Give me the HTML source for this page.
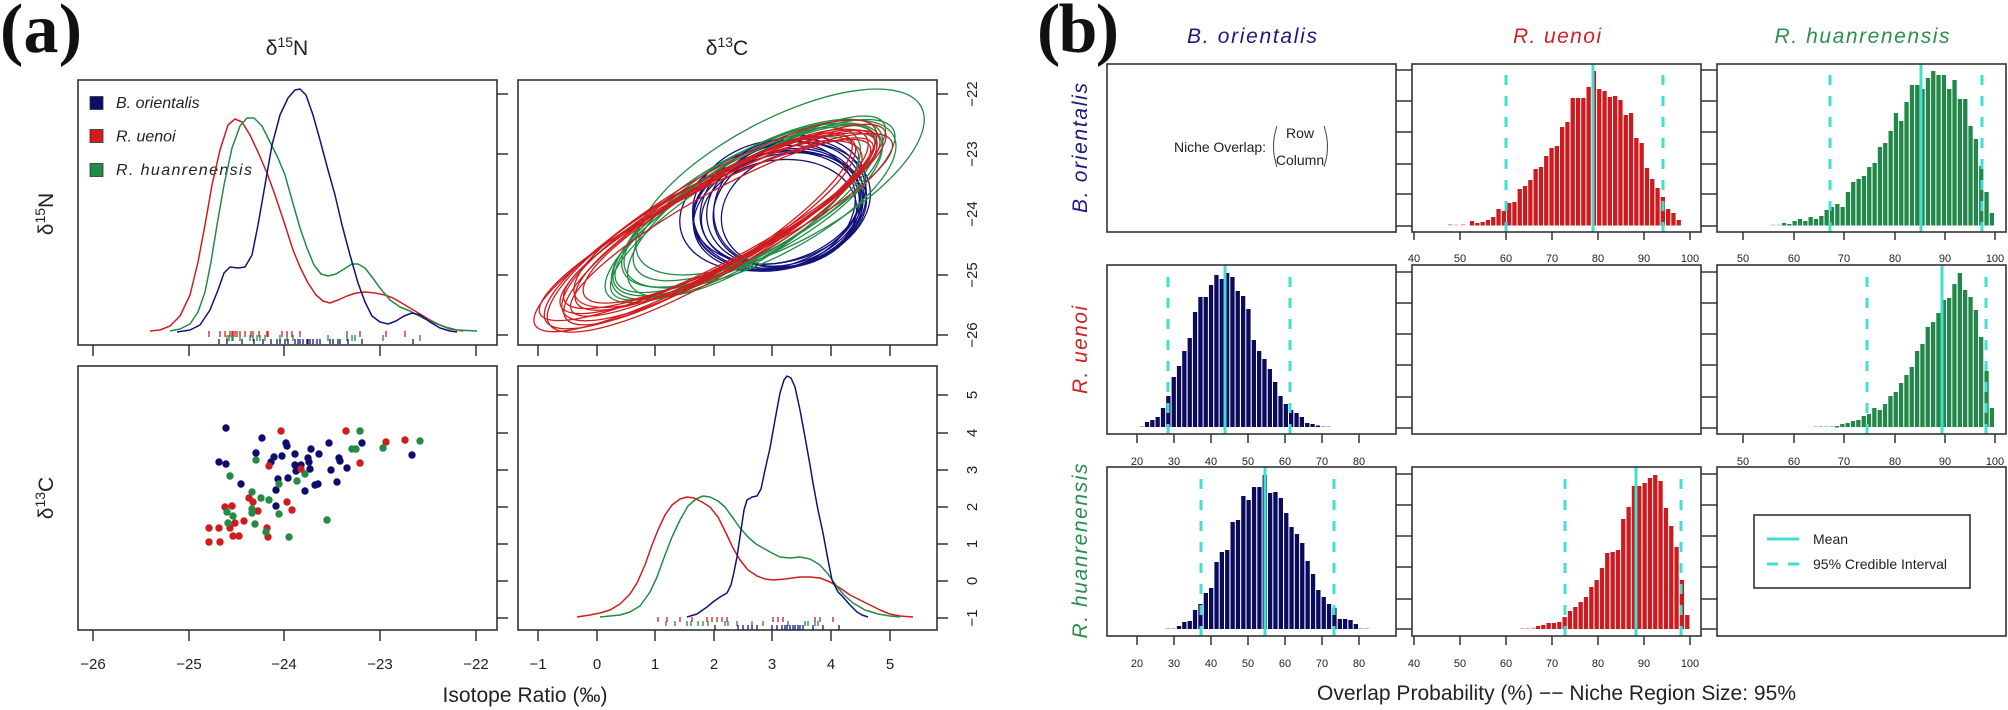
<!DOCTYPE html>
<html><head><meta charset="utf-8"><style>
html,body{margin:0;padding:0;background:#fff;}
svg{display:block;}
text{font-family:"Liberation Sans",Arial,sans-serif;}
</style></head><body>
<svg width="2008" height="710" viewBox="0 0 2008 710" xmlns="http://www.w3.org/2000/svg">
<rect width="2008" height="710" fill="#fff"/>

<!-- ================= PANEL (a) ================= -->
<text x="0" y="52" font-family="Liberation Serif,serif" font-weight="bold" font-size="70" textLength="82" fill="#111" style="font-family:'Liberation Serif',serif">(a)</text>

<text x="287" y="55" font-size="21" text-anchor="middle" fill="#222">δ<tspan font-size="14" dy="-8">15</tspan><tspan dy="8">N</tspan></text>
<text x="727" y="55" font-size="21" text-anchor="middle" fill="#222">δ<tspan font-size="14" dy="-8">13</tspan><tspan dy="8">C</tspan></text>
<text x="53" y="214" font-size="21" text-anchor="middle" fill="#222" transform="rotate(-90 53 214)">δ<tspan font-size="14" dy="-8">15</tspan><tspan dy="8">N</tspan></text>
<text x="53" y="498" font-size="21" text-anchor="middle" fill="#222" transform="rotate(-90 53 498)">δ<tspan font-size="14" dy="-8">13</tspan><tspan dy="8">C</tspan></text>

<!-- boxes -->
<g fill="none" stroke="#333" stroke-width="1.6">
<rect x="78" y="80" width="419" height="265"/>
<rect x="518" y="80" width="419" height="265"/>
<rect x="78" y="366" width="419" height="264"/>
<rect x="518" y="366" width="419" height="264"/>
</g>
<!-- ticks -->
<g stroke="#333" stroke-width="1.5">
<!-- right ticks left panels -->
<line x1="497" y1="94" x2="508" y2="94"/><line x1="497" y1="154" x2="508" y2="154"/><line x1="497" y1="214" x2="508" y2="214"/><line x1="497" y1="275" x2="508" y2="275"/><line x1="497" y1="335" x2="508" y2="335"/>
<line x1="497" y1="395" x2="508" y2="395"/><line x1="497" y1="433" x2="508" y2="433"/><line x1="497" y1="470" x2="508" y2="470"/><line x1="497" y1="507" x2="508" y2="507"/><line x1="497" y1="544" x2="508" y2="544"/><line x1="497" y1="581" x2="508" y2="581"/><line x1="497" y1="618" x2="508" y2="618"/>
<!-- right ticks right panels -->
<line x1="937" y1="94" x2="948" y2="94"/><line x1="937" y1="154" x2="948" y2="154"/><line x1="937" y1="214" x2="948" y2="214"/><line x1="937" y1="275" x2="948" y2="275"/><line x1="937" y1="335" x2="948" y2="335"/>
<line x1="937" y1="395" x2="948" y2="395"/><line x1="937" y1="433" x2="948" y2="433"/><line x1="937" y1="470" x2="948" y2="470"/><line x1="937" y1="507" x2="948" y2="507"/><line x1="937" y1="544" x2="948" y2="544"/><line x1="937" y1="581" x2="948" y2="581"/><line x1="937" y1="618" x2="948" y2="618"/>
<!-- bottom ticks top row -->
<line x1="93" y1="345" x2="93" y2="356"/><line x1="189" y1="345" x2="189" y2="356"/><line x1="284" y1="345" x2="284" y2="356"/><line x1="380" y1="345" x2="380" y2="356"/><line x1="476" y1="345" x2="476" y2="356"/>
<line x1="538" y1="345" x2="538" y2="356"/><line x1="597" y1="345" x2="597" y2="356"/><line x1="655" y1="345" x2="655" y2="356"/><line x1="714" y1="345" x2="714" y2="356"/><line x1="772" y1="345" x2="772" y2="356"/><line x1="831" y1="345" x2="831" y2="356"/><line x1="890" y1="345" x2="890" y2="356"/>
<!-- bottom ticks bottom row -->
<line x1="93" y1="630" x2="93" y2="641"/><line x1="189" y1="630" x2="189" y2="641"/><line x1="284" y1="630" x2="284" y2="641"/><line x1="380" y1="630" x2="380" y2="641"/><line x1="476" y1="630" x2="476" y2="641"/>
<line x1="538" y1="630" x2="538" y2="641"/><line x1="597" y1="630" x2="597" y2="641"/><line x1="655" y1="630" x2="655" y2="641"/><line x1="714" y1="630" x2="714" y2="641"/><line x1="772" y1="630" x2="772" y2="641"/><line x1="831" y1="630" x2="831" y2="641"/><line x1="890" y1="630" x2="890" y2="641"/>
</g>
<!-- tick labels -->
<g font-size="15" fill="#222" text-anchor="middle">
<text x="93" y="669">−26</text><text x="189" y="669">−25</text><text x="284" y="669">−24</text><text x="380" y="669">−23</text><text x="476" y="669">−22</text>
<text x="538" y="669">−1</text><text x="597" y="669">0</text><text x="655" y="669">1</text><text x="714" y="669">2</text><text x="772" y="669">3</text><text x="831" y="669">4</text><text x="890" y="669">5</text>
<text x="977" y="94" transform="rotate(-90 977 94)">−22</text>
<text x="977" y="154" transform="rotate(-90 977 154)">−23</text>
<text x="977" y="214" transform="rotate(-90 977 214)">−24</text>
<text x="977" y="275" transform="rotate(-90 977 275)">−25</text>
<text x="977" y="335" transform="rotate(-90 977 335)">−26</text>
<text x="977" y="395" transform="rotate(-90 977 395)">5</text>
<text x="977" y="433" transform="rotate(-90 977 433)">4</text>
<text x="977" y="470" transform="rotate(-90 977 470)">3</text>
<text x="977" y="507" transform="rotate(-90 977 507)">2</text>
<text x="977" y="544" transform="rotate(-90 977 544)">1</text>
<text x="977" y="581" transform="rotate(-90 977 581)">0</text>
<text x="977" y="618" transform="rotate(-90 977 618)">−1</text>
</g>
<text x="525" y="702" font-size="21" text-anchor="middle" fill="#222" textLength="165">Isotope Ratio (‰)</text>

<!-- legend (a) -->
<rect x="90" y="96.5" width="13" height="13" fill="#0d0d6e" stroke="#333" stroke-width="0.8"/>
<rect x="90" y="129.5" width="13" height="13" fill="#d01c1f" stroke="#333" stroke-width="0.8"/>
<rect x="90" y="163.5" width="13" height="13" fill="#238b45" stroke="#333" stroke-width="0.8"/>
<g font-size="16" font-style="italic" fill="#222">
<text x="116" y="108">B. orientalis</text>
<text x="116" y="141.5">R. uenoi</text>
<text x="116" y="175" textLength="136">R. huanrenensis</text>
</g>

<!-- top-left density curves -->
<g fill="none" stroke-width="1.5" stroke-linejoin="round">
<polyline stroke="#d01c1f" points="150,331 160,330 170,326 180,316 190,295 198,262 205,225 212,185 220,150 228,125 235,119 242,122 250,135 258,152 267,173 275,195 285,225 293,250 300,267 308,283 316,295 323,301 330,303 338,300 347,296 356,293 365,292 375,293 385,295 393,298 400,302 410,308 420,314 430,320 440,325 450,329 463,331"/>
<polyline stroke="#238b45" points="170,331 180,329 190,324 198,312 205,292 211,262 217,225 224,185 232,148 240,126 247,118 254,118 262,126 270,142 278,158 285,175 292,200 300,228 307,248 314,265 321,274 328,276 336,274 344,269 352,264 358,264 365,268 372,277 380,288 390,300 400,307 410,311 423,318 435,323 445,327 457,330 477,331"/>
<polyline stroke="#12127a" points="177,332 190,330 200,325 210,310 218,290 224,273 230,267 238,268 245,267 252,255 258,225 265,185 272,145 280,115 288,98 295,90 300,89 306,95 313,115 320,140 328,170 335,195 342,225 350,255 358,283 365,302 372,316 380,322 388,324 396,321 404,316 412,313 420,315 430,322 440,328 450,331 457,332"/>
</g>
<!-- rug top-left -->
<g stroke-width="1.3">
<path stroke="#d01c1f" d="M209 331v6M220 331v6M225 331v6M230 331v6M232 331v6M233 331v6M235 331v6M237 331v6M240 331v6M245 331v6M251 331v6M253 331v6M259 331v6M267 331v6M268 331v6M282 331v6M287 331v6M292 331v6M300 331v6M347 331v6M360 331v6M386 331v6M405 331v6"/>
<path stroke="#238b45" d="M227 335v6M229 335v6M232 335v6M233 335v6M240 335v6M250 335v6M253 335v6M257 335v6M260 335v6M265 335v6M280 335v6M287 335v6M293 335v6M328 335v6M347 335v6M352 335v6M355 335v6M383 335v6M420 335v6"/>
<path stroke="#12127a" d="M219 339v5M227 339v5M242 339v5M254 339v5M263 339v5M271 339v5M277 339v5M280 339v5M285 339v5M288 339v5M295 339v5M298 339v5M300 339v5M303 339v5M307 339v5M308 339v5M310 339v5M313 339v5M317 339v5M320 339v5M330 339v5M333 339v5M338 339v5M340 339v5M348 339v5M362 339v5M413 339v5"/>
</g>

<!-- top-right ellipses -->
<g fill="none" stroke-width="1.3">
<g stroke="#12127a">
<ellipse cx="782" cy="206" rx="90" ry="62" transform="rotate(-15 782 206)"/>
<ellipse cx="778" cy="210" rx="86" ry="58" transform="rotate(-12 778 210)"/>
<ellipse cx="785" cy="204" rx="80" ry="60" transform="rotate(-18 785 204)"/>
<ellipse cx="776" cy="208" rx="84" ry="55" transform="rotate(-10 776 208)"/>
<ellipse cx="790" cy="203" rx="78" ry="62" transform="rotate(-20 790 203)"/>
<ellipse cx="780" cy="212" rx="88" ry="57" transform="rotate(-14 780 212)"/>
<ellipse cx="787" cy="208" rx="75" ry="58" transform="rotate(-16 787 208)"/>
<ellipse cx="774" cy="205" rx="82" ry="64" transform="rotate(-12 774 205)"/>
<ellipse cx="783" cy="200" rx="86" ry="60" transform="rotate(-22 783 200)"/>
<ellipse cx="779" cy="214" rx="78" ry="54" transform="rotate(-8 779 214)"/>
<ellipse cx="792" cy="210" rx="72" ry="56" transform="rotate(-18 792 210)"/>
<ellipse cx="770" cy="208" rx="92" ry="60" transform="rotate(-15 770 208)"/>
</g>
<g stroke="#238b45">
<ellipse cx="780" cy="182" rx="160" ry="62" transform="rotate(-28 780 182)"/>
<ellipse cx="745" cy="210" rx="150" ry="48" transform="rotate(-30 745 210)"/>
<ellipse cx="752" cy="205" rx="145" ry="52" transform="rotate(-28 752 205)"/>
<ellipse cx="740" cy="214" rx="155" ry="45" transform="rotate(-31 740 214)"/>
<ellipse cx="758" cy="200" rx="140" ry="50" transform="rotate(-29 758 200)"/>
<ellipse cx="748" cy="208" rx="160" ry="42" transform="rotate(-32 748 208)"/>
<ellipse cx="735" cy="218" rx="140" ry="48" transform="rotate(-30 735 218)"/>
<ellipse cx="760" cy="204" rx="150" ry="55" transform="rotate(-27 760 204)"/>
<ellipse cx="744" cy="212" rx="135" ry="50" transform="rotate(-33 744 212)"/>
<ellipse cx="755" cy="206" rx="158" ry="46" transform="rotate(-29 755 206)"/>
</g>
<g stroke="#d01c1f">
<ellipse cx="710" cy="228" rx="200" ry="42" transform="rotate(-29 710 228)"/>
<ellipse cx="720" cy="222" rx="180" ry="40" transform="rotate(-28 720 222)"/>
<ellipse cx="715" cy="225" rx="175" ry="45" transform="rotate(-30 715 225)"/>
<ellipse cx="705" cy="230" rx="185" ry="38" transform="rotate(-27 705 230)"/>
<ellipse cx="725" cy="220" rx="170" ry="42" transform="rotate(-29 725 220)"/>
<ellipse cx="712" cy="226" rx="190" ry="48" transform="rotate(-31 712 226)"/>
<ellipse cx="730" cy="218" rx="165" ry="40" transform="rotate(-28 730 218)"/>
<ellipse cx="700" cy="232" rx="178" ry="44" transform="rotate(-30 700 232)"/>
<ellipse cx="718" cy="224" rx="160" ry="46" transform="rotate(-27 718 224)"/>
<ellipse cx="722" cy="227" rx="172" ry="36" transform="rotate(-29 722 227)"/>
<ellipse cx="708" cy="229" rx="168" ry="42" transform="rotate(-32 708 229)"/>
<ellipse cx="728" cy="221" rx="182" ry="40" transform="rotate(-26 728 221)"/>
</g>
</g>

<!-- bottom-left scatter -->
<g fill="#0d0d6e">
<circle cx="226" cy="428" r="3.7"/><circle cx="262" cy="438" r="3.7"/><circle cx="286" cy="443" r="3.7"/><circle cx="287" cy="446" r="3.7"/><circle cx="311" cy="449" r="3.7"/><circle cx="329" cy="443" r="3.7"/><circle cx="362" cy="443" r="3.7"/><circle cx="256" cy="453" r="3.7"/><circle cx="274" cy="457" r="3.7"/><circle cx="271" cy="462" r="3.7"/><circle cx="282" cy="456" r="3.7"/><circle cx="295" cy="454" r="3.7"/><circle cx="308" cy="458" r="3.7"/><circle cx="309" cy="462" r="3.7"/><circle cx="319" cy="454" r="3.7"/><circle cx="339" cy="458" r="3.7"/><circle cx="340" cy="461" r="3.7"/><circle cx="219" cy="462" r="3.7"/><circle cx="226" cy="464" r="3.7"/><circle cx="295" cy="465" r="3.7"/><circle cx="301" cy="465" r="3.7"/><circle cx="296" cy="471" r="3.7"/><circle cx="310" cy="469" r="3.7"/><circle cx="331" cy="470" r="3.7"/><circle cx="347" cy="468" r="3.7"/><circle cx="241" cy="484" r="3.7"/><circle cx="278" cy="479" r="3.7"/><circle cx="288" cy="478" r="3.7"/><circle cx="315" cy="485" r="3.7"/><circle cx="318" cy="484" r="3.7"/><circle cx="337" cy="482" r="3.7"/><circle cx="276" cy="490" r="3.7"/><circle cx="305" cy="491" r="3.7"/><circle cx="276" cy="506" r="3.7"/><circle cx="412" cy="455" r="3.7"/>
</g>
<g fill="#d01c1f">
<circle cx="281" cy="431" r="3.7"/><circle cx="346" cy="431" r="3.7"/><circle cx="386" cy="442" r="3.7"/><circle cx="405" cy="440" r="3.7"/><circle cx="269" cy="466" r="3.7"/><circle cx="301" cy="469" r="3.7"/><circle cx="360" cy="463" r="3.7"/><circle cx="249" cy="498" r="3.7"/><circle cx="253" cy="502" r="3.7"/><circle cx="232" cy="506" r="3.7"/><circle cx="225" cy="507" r="3.7"/><circle cx="258" cy="511" r="3.7"/><circle cx="287" cy="502" r="3.7"/><circle cx="292" cy="510" r="3.7"/><circle cx="244" cy="521" r="3.7"/><circle cx="235" cy="523" r="3.7"/><circle cx="230" cy="528" r="3.7"/><circle cx="219" cy="528" r="3.7"/><circle cx="209" cy="528" r="3.7"/><circle cx="267" cy="528" r="3.7"/><circle cx="233" cy="536" r="3.7"/><circle cx="239" cy="536" r="3.7"/><circle cx="268" cy="537" r="3.7"/><circle cx="209" cy="542" r="3.7"/><circle cx="220" cy="542" r="3.7"/>
</g>
<g fill="#238b45">
<circle cx="360" cy="431" r="3.7"/><circle cx="352" cy="449" r="3.7"/><circle cx="356" cy="449" r="3.7"/><circle cx="383" cy="448" r="3.7"/><circle cx="420" cy="441" r="3.7"/><circle cx="256" cy="460" r="3.7"/><circle cx="230" cy="476" r="3.7"/><circle cx="279" cy="484" r="3.7"/><circle cx="297" cy="481" r="3.7"/><circle cx="305" cy="474" r="3.7"/><circle cx="252" cy="492" r="3.7"/><circle cx="261" cy="498" r="3.7"/><circle cx="269" cy="500" r="3.7"/><circle cx="227" cy="512" r="3.7"/><circle cx="233" cy="516" r="3.7"/><circle cx="252" cy="513" r="3.7"/><circle cx="252" cy="509" r="3.7"/><circle cx="279" cy="514" r="3.7"/><circle cx="228" cy="523" r="3.7"/><circle cx="255" cy="524" r="3.7"/><circle cx="266" cy="532" r="3.7"/><circle cx="289" cy="537" r="3.7"/><circle cx="327" cy="520" r="3.7"/>
</g>

<!-- bottom-right density curves -->
<g fill="none" stroke-width="1.5" stroke-linejoin="round">
<polyline stroke="#d01c1f" points="577,617 590,615 600,613 610,610 620,604 630,594 637,583 645,565 652,545 658,530 665,515 672,505 680,499 687,497 694,498 702,502 710,507 718,517 726,533 733,548 740,560 748,570 757,576 765,579 773,580 785,579 800,577 810,577 820,578 830,582 840,588 850,595 860,600 870,605 880,610 890,614 900,616 913,617"/>
<polyline stroke="#238b45" points="600,617 610,616 620,615 630,612 640,606 650,592 657,577 665,555 672,537 680,520 688,506 696,499 703,496 710,497 718,501 725,507 733,518 740,528 748,537 756,544 763,548 772,553 780,557 790,558 800,557 810,559 820,565 828,574 835,584 843,594 853,603 865,610 878,614 890,616 900,617"/>
<polyline stroke="#12127a" points="687,617 697,614 707,607 713,602 720,597 727,593 731,585 734,572 737,557 741,530 744,510 747,500 752,497 757,496 761,489 765,470 770,448 775,420 780,393 784,380 787,376 791,378 795,387 800,410 805,437 810,465 813,483 818,510 823,533 828,560 832,580 838,592 843,597 850,605 857,612 862,615 868,617"/>
</g>
<g stroke-width="1.3">
<path stroke="#d01c1f" d="M658 617v5M667 617v5M680 617v5M692 617v5M707 617v5M712 617v5M717 617v5M722 617v5M727 617v5M773 617v5M778 617v5M783 617v5M815 617v5M820 617v5M833 617v5"/>
<path stroke="#238b45" d="M666 621v5M675 621v5M687 621v5M691 621v5M698 621v5M703 621v5M708 621v5M725 621v5M728 621v5M737 621v5M752 621v5M763 621v5M788 621v5M805 621v5M808 621v5M815 621v5M818 621v5"/>
<path stroke="#12127a" d="M715 625v5M738 625v5M743 625v5M748 625v5M752 625v5M757 625v5M772 625v5M777 625v5M782 625v5M785 625v5M787 625v5M790 625v5M793 625v5M795 625v5M798 625v5M800 625v5M803 625v5M813 625v5M823 625v5M839 625v5"/>
</g>

<!-- ================= PANEL (b) ================= -->
<text x="1037" y="52" font-weight="bold" font-size="70" textLength="82" fill="#111" style="font-family:'Liberation Serif',serif">(b)</text>

<g font-size="21" font-style="italic" text-anchor="middle">
<text x="1252" y="43" fill="#1b1b7d" textLength="130">B. orientalis</text>
<text x="1557" y="43" fill="#d42027" textLength="88">R. uenoi</text>
<text x="1862" y="43" fill="#2a8f4f" textLength="175">R. huanrenensis</text>
<text x="1087" y="148" fill="#1b1b7d" textLength="130" transform="rotate(-90 1087 148)">B. orientalis</text>
<text x="1087" y="350" fill="#d42027" textLength="88" transform="rotate(-90 1087 350)">R. uenoi</text>
<text x="1087" y="551" fill="#2a8f4f" textLength="175" transform="rotate(-90 1087 551)">R. huanrenensis</text>
</g>

<!-- histograms -->
<g fill="#cc1a1f">
<rect x="1469.9" y="221" width="4.3" height="4.5"/><rect x="1475.2" y="223" width="4.3" height="2.5"/><rect x="1480.5" y="222" width="4.3" height="3.5"/><rect x="1485.8" y="220" width="4.3" height="5.5"/><rect x="1491.1" y="217" width="4.3" height="8.5"/><rect x="1496.4" y="209" width="4.3" height="16.5"/><rect x="1501.7" y="211" width="4.3" height="14.5"/><rect x="1507.0" y="203" width="4.3" height="22.5"/><rect x="1512.3" y="202" width="4.3" height="23.5"/><rect x="1517.6" y="189" width="4.3" height="36.5"/><rect x="1522.9" y="186" width="4.3" height="39.5"/><rect x="1528.2" y="180" width="4.3" height="45.5"/><rect x="1533.5" y="169" width="4.3" height="56.5"/><rect x="1538.8" y="167" width="4.3" height="58.5"/><rect x="1544.1" y="156" width="4.3" height="69.5"/><rect x="1549.4" y="148" width="4.3" height="77.5"/><rect x="1554.7" y="146" width="4.3" height="79.5"/><rect x="1560.0" y="127" width="4.3" height="98.5"/><rect x="1565.3" y="122" width="4.3" height="103.5"/><rect x="1570.6" y="98" width="4.3" height="127.5"/><rect x="1575.9" y="98" width="4.3" height="127.5"/><rect x="1581.2" y="98" width="4.3" height="127.5"/><rect x="1586.5" y="87" width="4.3" height="138.5"/><rect x="1591.8" y="71" width="4.3" height="154.5"/><rect x="1597.1" y="89" width="4.3" height="136.5"/><rect x="1602.4" y="91" width="4.3" height="134.5"/><rect x="1607.7" y="97" width="4.3" height="128.5"/><rect x="1613.0" y="96" width="4.3" height="129.5"/><rect x="1618.3" y="100" width="4.3" height="125.5"/><rect x="1623.6" y="115" width="4.3" height="110.5"/><rect x="1628.9" y="113" width="4.3" height="112.5"/><rect x="1634.2" y="138" width="4.3" height="87.5"/><rect x="1639.5" y="143" width="4.3" height="82.5"/><rect x="1644.8" y="168" width="4.3" height="57.5"/><rect x="1650.1" y="179" width="4.3" height="46.5"/><rect x="1655.4" y="188" width="4.3" height="37.5"/><rect x="1660.7" y="197" width="4.3" height="28.5"/><rect x="1666.0" y="209" width="4.3" height="16.5"/><rect x="1671.3" y="213" width="4.3" height="12.5"/><rect x="1676.6" y="220" width="4.3" height="5.5"/>
</g>
<g fill="#e8aaaa"><rect x="1448" y="224" width="4.3" height="1.5"/><rect x="1454" y="224.5" width="4.3" height="1"/><rect x="1461" y="224" width="4.3" height="1.5"/></g>

<g fill="#22884a">
<rect x="1781.9" y="223" width="4.3" height="2.5"/><rect x="1787.2" y="224" width="4.3" height="1.5"/><rect x="1792.5" y="221" width="4.3" height="4.5"/><rect x="1797.8" y="219" width="4.3" height="6.5"/><rect x="1803.2" y="221" width="4.3" height="4.5"/><rect x="1808.5" y="217" width="4.3" height="8.5"/><rect x="1813.8" y="219" width="4.3" height="6.5"/><rect x="1819.2" y="216" width="4.3" height="9.5"/><rect x="1824.5" y="210" width="4.3" height="15.5"/><rect x="1829.8" y="207" width="4.3" height="18.5"/><rect x="1835.2" y="204" width="4.3" height="21.5"/><rect x="1840.5" y="207" width="4.3" height="18.5"/><rect x="1845.8" y="192" width="4.3" height="33.5"/><rect x="1851.1" y="182" width="4.3" height="43.5"/><rect x="1856.5" y="179" width="4.3" height="46.5"/><rect x="1861.8" y="176" width="4.3" height="49.5"/><rect x="1867.1" y="167" width="4.3" height="58.5"/><rect x="1872.5" y="163" width="4.3" height="62.5"/><rect x="1877.8" y="147" width="4.3" height="78.5"/><rect x="1883.1" y="143" width="4.3" height="82.5"/><rect x="1888.5" y="131" width="4.3" height="94.5"/><rect x="1893.8" y="113" width="4.3" height="112.5"/><rect x="1899.1" y="121" width="4.3" height="104.5"/><rect x="1904.4" y="102" width="4.3" height="123.5"/><rect x="1909.8" y="85" width="4.3" height="140.5"/><rect x="1915.1" y="85" width="4.3" height="140.5"/><rect x="1920.4" y="89" width="4.3" height="136.5"/><rect x="1925.8" y="78" width="4.3" height="147.5"/><rect x="1931.1" y="71" width="4.3" height="154.5"/><rect x="1936.4" y="75" width="4.3" height="150.5"/><rect x="1941.8" y="75" width="4.3" height="150.5"/><rect x="1947.1" y="89" width="4.3" height="136.5"/><rect x="1952.4" y="80" width="4.3" height="145.5"/><rect x="1957.7" y="99" width="4.3" height="126.5"/><rect x="1963.1" y="99" width="4.3" height="126.5"/><rect x="1968.4" y="126" width="4.3" height="99.5"/><rect x="1973.7" y="139" width="4.3" height="86.5"/><rect x="1979.1" y="166" width="4.3" height="59.5"/><rect x="1984.4" y="192" width="4.3" height="33.5"/><rect x="1989.7" y="213" width="4.3" height="12.5"/>
</g>
<g fill="#a8d4b4"><rect x="1771" y="224.5" width="4.3" height="1"/><rect x="1776.5" y="224.5" width="4.3" height="1"/></g>

<g fill="#0a0a5e">
<rect x="1144.9" y="422" width="4.3" height="5"/><rect x="1150.2" y="420" width="4.3" height="7"/><rect x="1155.5" y="417" width="4.3" height="10"/><rect x="1160.9" y="408" width="4.3" height="19"/><rect x="1166.2" y="396" width="4.3" height="31"/><rect x="1171.6" y="377" width="4.3" height="50"/><rect x="1176.9" y="366" width="4.3" height="61"/><rect x="1182.2" y="351" width="4.3" height="76"/><rect x="1187.6" y="338" width="4.3" height="89"/><rect x="1192.9" y="312" width="4.3" height="115"/><rect x="1198.3" y="297" width="4.3" height="130"/><rect x="1203.6" y="297" width="4.3" height="130"/><rect x="1208.9" y="285" width="4.3" height="142"/><rect x="1214.3" y="275" width="4.3" height="152"/><rect x="1219.6" y="279" width="4.3" height="148"/><rect x="1225.0" y="273" width="4.3" height="154"/><rect x="1230.3" y="277" width="4.3" height="150"/><rect x="1235.6" y="291" width="4.3" height="136"/><rect x="1241.0" y="296" width="4.3" height="131"/><rect x="1246.3" y="309" width="4.3" height="118"/><rect x="1251.7" y="340" width="4.3" height="87"/><rect x="1257.0" y="351" width="4.3" height="76"/><rect x="1262.3" y="359" width="4.3" height="68"/><rect x="1267.7" y="369" width="4.3" height="58"/><rect x="1273.0" y="382" width="4.3" height="45"/><rect x="1278.4" y="396" width="4.3" height="31"/><rect x="1283.7" y="404" width="4.3" height="23"/><rect x="1289.0" y="410" width="4.3" height="17"/><rect x="1294.4" y="413" width="4.3" height="14"/><rect x="1299.7" y="417" width="4.3" height="10"/><rect x="1305.1" y="423" width="4.3" height="4"/><rect x="1310.4" y="424" width="4.3" height="3"/><rect x="1315.7" y="425.5" width="4.3" height="1.5"/>
<rect x="1176.9" y="626" width="4.3" height="3"/><rect x="1182.2" y="622" width="4.3" height="7"/><rect x="1187.6" y="621" width="4.3" height="8"/><rect x="1192.9" y="610" width="4.3" height="19"/><rect x="1198.3" y="604" width="4.3" height="25"/><rect x="1203.7" y="593" width="4.3" height="36"/><rect x="1209.0" y="588" width="4.3" height="41"/><rect x="1214.4" y="562" width="4.3" height="67"/><rect x="1219.7" y="552" width="4.3" height="77"/><rect x="1225.1" y="550" width="4.3" height="79"/><rect x="1230.5" y="522" width="4.3" height="107"/><rect x="1235.8" y="520" width="4.3" height="109"/><rect x="1241.2" y="496" width="4.3" height="133"/><rect x="1246.5" y="500" width="4.3" height="129"/><rect x="1251.9" y="487" width="4.3" height="142"/><rect x="1257.3" y="487" width="4.3" height="142"/><rect x="1262.6" y="475" width="4.3" height="154"/><rect x="1268.0" y="493" width="4.3" height="136"/><rect x="1273.3" y="492" width="4.3" height="137"/><rect x="1278.7" y="498" width="4.3" height="131"/><rect x="1284.1" y="513" width="4.3" height="116"/><rect x="1289.4" y="527" width="4.3" height="102"/><rect x="1294.8" y="534" width="4.3" height="95"/><rect x="1300.1" y="543" width="4.3" height="86"/><rect x="1305.5" y="561" width="4.3" height="68"/><rect x="1310.9" y="574" width="4.3" height="55"/><rect x="1316.2" y="590" width="4.3" height="39"/><rect x="1321.6" y="597" width="4.3" height="32"/><rect x="1326.9" y="604" width="4.3" height="25"/><rect x="1332.3" y="608" width="4.3" height="21"/><rect x="1337.7" y="619" width="4.3" height="10"/><rect x="1343.0" y="619" width="4.3" height="10"/><rect x="1348.4" y="620" width="4.3" height="9"/><rect x="1353.7" y="624" width="4.3" height="5"/>
</g>
<g fill="#b0b0d8"><rect x="1139.5" y="426" width="4.3" height="1"/><rect x="1321" y="426" width="4.3" height="1"/><rect x="1326.5" y="426" width="4.3" height="1"/><rect x="1166" y="628" width="4.3" height="1"/><rect x="1171.5" y="628" width="4.3" height="1"/><rect x="1359" y="628" width="4.3" height="1"/><rect x="1364.5" y="628" width="4.3" height="1"/></g>

<g fill="#22884a">
<rect x="1834.9" y="426" width="4.3" height="1.5"/><rect x="1840.2" y="424" width="4.3" height="3"/><rect x="1845.5" y="423" width="4.3" height="4"/><rect x="1850.9" y="421" width="4.3" height="6"/><rect x="1856.2" y="420" width="4.3" height="7"/><rect x="1861.6" y="416" width="4.3" height="11"/><rect x="1866.9" y="414" width="4.3" height="13"/><rect x="1872.2" y="408" width="4.3" height="19"/><rect x="1877.6" y="410" width="4.3" height="17"/><rect x="1882.9" y="404" width="4.3" height="23"/><rect x="1888.3" y="396" width="4.3" height="31"/><rect x="1893.6" y="392" width="4.3" height="35"/><rect x="1898.9" y="383" width="4.3" height="44"/><rect x="1904.3" y="375" width="4.3" height="52"/><rect x="1909.6" y="367" width="4.3" height="60"/><rect x="1915.0" y="351" width="4.3" height="76"/><rect x="1920.3" y="344" width="4.3" height="83"/><rect x="1925.6" y="327" width="4.3" height="100"/><rect x="1931.0" y="322" width="4.3" height="105"/><rect x="1936.3" y="313" width="4.3" height="114"/><rect x="1941.7" y="300" width="4.3" height="127"/><rect x="1947.0" y="298" width="4.3" height="129"/><rect x="1952.3" y="284" width="4.3" height="143"/><rect x="1957.7" y="273" width="4.3" height="154"/><rect x="1963.0" y="290" width="4.3" height="137"/><rect x="1968.4" y="297" width="4.3" height="130"/><rect x="1973.7" y="310" width="4.3" height="117"/><rect x="1979.0" y="337" width="4.3" height="90"/><rect x="1984.4" y="371" width="4.3" height="56"/><rect x="1989.7" y="408" width="4.3" height="19"/>
</g>
<g fill="#a8d4b4"><rect x="1813" y="426" width="4.3" height="1"/><rect x="1818.5" y="426" width="4.3" height="1"/><rect x="1824" y="426" width="4.3" height="1"/><rect x="1829.5" y="426" width="4.3" height="1"/></g>

<g fill="#cc1a1f">
<rect x="1535.9" y="626" width="4.3" height="3"/><rect x="1541.2" y="625" width="4.3" height="4"/><rect x="1546.5" y="623" width="4.3" height="6"/><rect x="1551.8" y="623" width="4.3" height="6"/><rect x="1557.2" y="622" width="4.3" height="7"/><rect x="1562.5" y="617" width="4.3" height="12"/><rect x="1567.8" y="611" width="4.3" height="18"/><rect x="1573.2" y="607" width="4.3" height="22"/><rect x="1578.5" y="602" width="4.3" height="27"/><rect x="1583.8" y="597" width="4.3" height="32"/><rect x="1589.2" y="587" width="4.3" height="42"/><rect x="1594.5" y="580" width="4.3" height="49"/><rect x="1599.8" y="568" width="4.3" height="61"/><rect x="1605.1" y="553" width="4.3" height="76"/><rect x="1610.5" y="552" width="4.3" height="77"/><rect x="1615.8" y="550" width="4.3" height="79"/><rect x="1621.1" y="519" width="4.3" height="110"/><rect x="1626.5" y="507" width="4.3" height="122"/><rect x="1631.8" y="486" width="4.3" height="143"/><rect x="1637.1" y="486" width="4.3" height="143"/><rect x="1642.5" y="483" width="4.3" height="146"/><rect x="1647.8" y="478" width="4.3" height="151"/><rect x="1653.1" y="475" width="4.3" height="154"/><rect x="1658.4" y="481" width="4.3" height="148"/><rect x="1663.8" y="508" width="4.3" height="121"/><rect x="1669.1" y="526" width="4.3" height="103"/><rect x="1674.4" y="547" width="4.3" height="82"/><rect x="1679.8" y="580" width="4.3" height="49"/><rect x="1685.1" y="615" width="4.3" height="14"/>
</g>
<g fill="#e8aaaa"><rect x="1520" y="628" width="4.3" height="1"/><rect x="1525.5" y="628" width="4.3" height="1"/><rect x="1531" y="627.5" width="4.3" height="1.5"/></g>

<!-- mean & CI lines -->
<g stroke="#40e0d0" stroke-width="3" fill="none">
<line x1="1593" y1="64" x2="1593" y2="232"/>
<line x1="1921" y1="64" x2="1921" y2="232"/>
<line x1="1225" y1="265" x2="1225" y2="434"/>
<line x1="1942" y1="265" x2="1942" y2="434"/>
<line x1="1265" y1="467" x2="1265" y2="636"/>
<line x1="1636" y1="467" x2="1636" y2="636"/>
<g stroke-dasharray="10,11">
<line x1="1506" y1="75" x2="1506" y2="232"/><line x1="1663" y1="75" x2="1663" y2="232"/>
<line x1="1830" y1="75" x2="1830" y2="232"/><line x1="1982" y1="75" x2="1982" y2="232"/>
<line x1="1168" y1="277" x2="1168" y2="434"/><line x1="1290" y1="277" x2="1290" y2="434"/>
<line x1="1867" y1="277" x2="1867" y2="434"/><line x1="1986" y1="277" x2="1986" y2="434"/>
<line x1="1201" y1="479" x2="1201" y2="636"/><line x1="1334" y1="479" x2="1334" y2="636"/>
<line x1="1565" y1="479" x2="1565" y2="636"/><line x1="1681" y1="479" x2="1681" y2="636"/>
</g>
</g>

<!-- boxes (b) -->
<g fill="none" stroke="#333" stroke-width="1.6">
<rect x="1107" y="64" width="289" height="168"/><rect x="1412" y="64" width="289" height="168"/><rect x="1717" y="64" width="289" height="168"/>
<rect x="1107" y="265" width="289" height="169"/><rect x="1412" y="265" width="289" height="169"/><rect x="1717" y="265" width="289" height="169"/>
<rect x="1107" y="467" width="289" height="169"/><rect x="1412" y="467" width="289" height="169"/><rect x="1717" y="467" width="289" height="169"/>
</g>
<!-- gap ticks (b) -->
<g stroke="#333" stroke-width="1.5">
<path d="M1396 70h16M1396 101h16M1396 132h16M1396 164h16M1396 194h16M1396 226h16M1701 70h16M1701 101h16M1701 132h16M1701 164h16M1701 194h16M1701 226h16"/>
<path d="M1396 272h16M1396 303h16M1396 334h16M1396 365h16M1396 397h16M1396 428h16M1701 272h16M1701 303h16M1701 334h16M1701 365h16M1701 397h16M1701 428h16"/>
<path d="M1396 474h16M1396 505h16M1396 536h16M1396 567h16M1396 599h16M1396 629h16M1701 474h16M1701 505h16M1701 536h16M1701 567h16M1701 599h16M1701 629h16"/>
<!-- x ticks -->
<path d="M1414 232v8M1460 232v8M1506 232v8M1552 232v8M1598 232v8M1644 232v8M1690 232v8"/>
<path d="M1743 232v8M1794 232v8M1844 232v8M1895 232v8M1945 232v8M1995 232v8"/>
<path d="M1137 434v9M1174 434v9M1211 434v9M1248 434v9M1285 434v9M1322 434v9M1359 434v9"/>
<path d="M1743 434v9M1794 434v9M1844 434v9M1895 434v9M1945 434v9M1995 434v9"/>
<path d="M1137 636v9M1174 636v9M1211 636v9M1248 636v9M1285 636v9M1322 636v9M1359 636v9"/>
<path d="M1414 636v9M1460 636v9M1506 636v9M1552 636v9M1598 636v9M1644 636v9M1690 636v9"/>
</g>
<g font-size="11" fill="#222" text-anchor="middle">
<text x="1414" y="262">40</text><text x="1460" y="262">50</text><text x="1506" y="262">60</text><text x="1552" y="262">70</text><text x="1598" y="262">80</text><text x="1644" y="262">90</text><text x="1690" y="262">100</text>
<text x="1743" y="262">50</text><text x="1794" y="262">60</text><text x="1844" y="262">70</text><text x="1895" y="262">80</text><text x="1945" y="262">90</text><text x="1995" y="262">100</text>
<text x="1137" y="465">20</text><text x="1174" y="465">30</text><text x="1211" y="465">40</text><text x="1248" y="465">50</text><text x="1285" y="465">60</text><text x="1322" y="465">70</text><text x="1359" y="465">80</text>
<text x="1743" y="465">50</text><text x="1794" y="465">60</text><text x="1844" y="465">70</text><text x="1895" y="465">80</text><text x="1945" y="465">90</text><text x="1995" y="465">100</text>
<text x="1137" y="667">20</text><text x="1174" y="667">30</text><text x="1211" y="667">40</text><text x="1248" y="667">50</text><text x="1285" y="667">60</text><text x="1322" y="667">70</text><text x="1359" y="667">80</text>
<text x="1414" y="667">40</text><text x="1460" y="667">50</text><text x="1506" y="667">60</text><text x="1552" y="667">70</text><text x="1598" y="667">80</text><text x="1644" y="667">90</text><text x="1690" y="667">100</text>
</g>

<!-- Niche overlap note -->
<text x="1174" y="152" font-size="14" fill="#222" textLength="92">Niche Overlap:</text>
<text x="1300" y="138" font-size="14" fill="#222" text-anchor="middle">Row</text>
<text x="1300" y="165" font-size="14" fill="#222" text-anchor="middle">Column</text>
<path d="M1277 126 Q1270 146.5 1277 167 M1324 126 Q1331 146.5 1324 167" fill="none" stroke="#444" stroke-width="1"/>

<!-- legend (b) -->
<rect x="1754" y="515" width="216" height="73" fill="#fff" stroke="#333" stroke-width="1.6"/>
<line x1="1767" y1="539" x2="1799" y2="539" stroke="#40e0d0" stroke-width="3"/>
<path d="M1767 564h11M1788 564h11" stroke="#40e0d0" stroke-width="3"/>
<text x="1813" y="544" font-size="14" fill="#222">Mean</text>
<text x="1813" y="569" font-size="14" fill="#222" textLength="134">95% Credible Interval</text>

<text x="1317" y="700" font-size="21" fill="#222" textLength="479">Overlap Probability (%) −− Niche Region Size: 95%</text>
</svg>
</body></html>
